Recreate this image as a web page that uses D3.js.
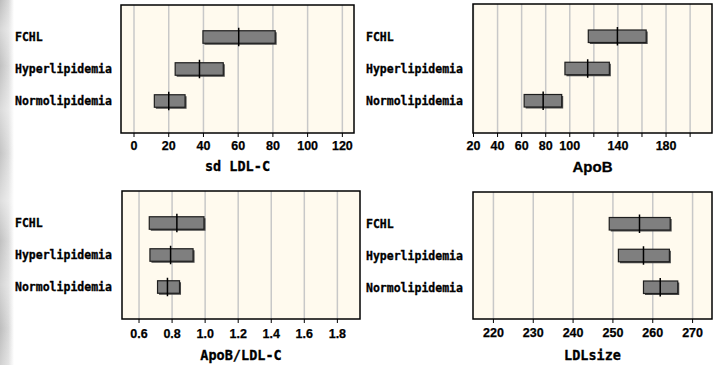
<!DOCTYPE html>
<html>
<head>
<meta charset="utf-8">
<script src="https://cdn.jsdelivr.net/npm/d3@7"></script>
<style>
  body { margin: 0; background: #fff; }
  svg { display: block; }
  .cat { font-family: "DejaVu Sans Mono", monospace; font-weight: bold; font-size: 11.5px; fill: #000; stroke: #000; stroke-width: 0.3px; }
  .tick text { font-family: "Liberation Sans", Arial, sans-serif; font-weight: bold; font-size: 12.5px; fill: #000; stroke: #000; stroke-width: 0.25px; }
  .title { font-family: "DejaVu Sans Mono", monospace; font-weight: bold; font-size: 13.5px; fill: #000; stroke: #000; stroke-width: 0.3px; }
  .prop .title { font-family: "Liberation Sans", Arial, sans-serif; font-size: 15px; }
</style>
</head>
<body>
<div id="chart"></div>
<script>
// groups shown on every panel, top to bottom
var groups = ["FCHL", "Hyperlipidemia", "Normolipidemia"];

// sd LDL-C
var sdLdlLow = [40, 24, 12];
var sdLdlMed = [60.6, 38, 20.3];
var sdLdlHigh = [81.6, 51.7, 29.7];
var sdLdlTicks = [0, 20, 40, 60, 80, 100, 120];

// ApoB
var apoBLow = [115.8, 96.4, 62.5];
var apoBMed = [140, 115.3, 78.3];
var apoBHigh = [163.9, 133.3, 93.7];
var apoBTicks = [20, 40, 60, 80, 100, 120, 140, 160, 180, 200];
var apoBLabels = [20, 40, 60, 80, 100, 140, 180];

// ApoB/LDL-C
var ratioLow = [0.665, 0.669, 0.715];
var ratioMed = [0.832, 0.794, 0.775];
var ratioHigh = [0.996, 0.93, 0.848];
var ratioTicks = [0.6, 0.8, 1.0, 1.2, 1.4, 1.6, 1.8];

// LDL size
var sizeLow = [249.2, 251.5, 257.8];
var sizeMed = [256.8, 257.8, 262];
var sizeHigh = [264.5, 264.3, 266.4];
var sizeTicks = [220, 230, 240, 250, 260, 270];

var W = 717, H = 365;

var svg = d3.select("#chart").append("svg")
    .attr("width", W).attr("height", H);

// greyish textured strip on the left edge
var defs = svg.append("defs");
var grad = defs.append("linearGradient").attr("id", "edge")
    .attr("x1", 0).attr("x2", 1).attr("y1", 0).attr("y2", 0);
grad.append("stop").attr("offset", "0%").attr("stop-color", "#bdbdbd");
grad.append("stop").attr("offset", "60%").attr("stop-color", "#d8d8d8");
grad.append("stop").attr("offset", "100%").attr("stop-color", "#ffffff");
var grad2 = defs.append("linearGradient").attr("id", "edge2")
    .attr("x1", 0).attr("x2", 0).attr("y1", 0).attr("y2", 1);
[["0%", 0.0], ["8%", 0.4], ["18%", 0.05], ["30%", 0.45], ["42%", 0.1], ["55%", 0.5], ["66%", 0.05], ["78%", 0.35], ["90%", 0.0], ["100%", 0.3]]
    .forEach(function(s) {
        grad2.append("stop").attr("offset", s[0]).attr("stop-color", "#fff").attr("stop-opacity", s[1]);
    });
svg.append("rect").attr("x", 0).attr("y", 0).attr("width", 14).attr("height", H).attr("fill", "url(#edge)");
svg.append("rect").attr("x", 0).attr("y", 0).attr("width", 14).attr("height", H).attr("fill", "url(#edge2)");

var panels = [
    { x0: 121, x1: 354, y0: 5, y1: 133, labelX: 15, domain: [-7.2, 127], title: "sd LDL-C",
      low: sdLdlLow, med: sdLdlMed, high: sdLdlHigh, ticks: sdLdlTicks, labels: sdLdlTicks,
      fmt: d3.format("d"), tickOff: 8, titleOff: 38, prop: false },
    { x0: 473, x1: 712, y0: 4, y1: 133, labelX: 366, domain: [20, 218.6], title: "ApoB",
      low: apoBLow, med: apoBMed, high: apoBHigh, ticks: apoBTicks, labels: apoBLabels,
      fmt: d3.format("d"), tickOff: 8, titleOff: 39, prop: true },
    { x0: 122, x1: 360, y0: 191, y1: 319, labelX: 15, domain: [0.5, 1.94], title: "ApoB/LDL-C",
      low: ratioLow, med: ratioMed, high: ratioHigh, ticks: ratioTicks, labels: ratioTicks,
      fmt: d3.format(".1f"), tickOff: 10, titleOff: 41, prop: false },
    { x0: 473, x1: 712, y0: 192, y1: 319, labelX: 366, domain: [215, 275], title: "LDLsize",
      low: sizeLow, med: sizeMed, high: sizeHigh, ticks: sizeTicks, labels: sizeTicks,
      fmt: d3.format("d"), tickOff: 9, titleOff: 41, prop: false }
];

panels.forEach(drawPanel);

function drawPanel(p) {
    var g = svg.append("g").attr("class", p.prop ? "prop" : "mono");
    var w = p.x1 - p.x0, h = p.y1 - p.y0;

    var x = d3.scaleLinear().domain(p.domain).range([p.x0, p.x1]);
    var y = d3.scaleLinear().domain([0, groups.length + 1]).range([p.y0, p.y1]);

    // plot background
    g.append("rect")
        .attr("x", p.x0).attr("y", p.y0).attr("width", w).attr("height", h)
        .attr("fill", "#fffaee");

    // grid lines
    g.append("g")
        .attr("transform", "translate(0," + p.y1 + ")")
        .call(d3.axisBottom(x).tickValues(p.ticks).tickSize(-h).tickFormat(""))
        .call(function(a) { a.select(".domain").remove(); })
        .selectAll("line").attr("stroke", "#c8c8c8").attr("stroke-width", 1.5);

    // bars: shadow, box, median
    var rows = groups.map(function(d, i) {
        return { name: d, low: p.low[i], med: p.med[i], high: p.high[i], pos: i + 1 };
    });
    var bh = 12.5;

    g.selectAll(".shadow").data(rows).enter().append("rect")
        .attr("class", "shadow")
        .attr("x", function(d) { return x(d.low) + 1.5; })
        .attr("y", function(d) { return y(d.pos) - bh / 2 + 1.5; })
        .attr("width", function(d) { return x(d.high) - x(d.low); })
        .attr("height", bh)
        .attr("fill", "#4a4a4a");

    g.selectAll(".bar").data(rows).enter().append("rect")
        .attr("class", "bar")
        .attr("x", function(d) { return x(d.low); })
        .attr("y", function(d) { return y(d.pos) - bh / 2; })
        .attr("width", function(d) { return x(d.high) - x(d.low); })
        .attr("height", bh)
        .attr("fill", "#7f7f7f")
        .attr("stroke", "#1e1e1e")
        .attr("stroke-width", 1.2);

    g.selectAll(".med").data(rows).enter().append("line")
        .attr("class", "med")
        .attr("x1", function(d) { return x(d.med); })
        .attr("x2", function(d) { return x(d.med); })
        .attr("y1", function(d) { return y(d.pos) - bh / 2 - 3; })
        .attr("y2", function(d) { return y(d.pos) + bh / 2 + 3; })
        .attr("stroke", "#000").attr("stroke-width", 1.5);

    // frame
    g.append("rect")
        .attr("x", p.x0).attr("y", p.y0).attr("width", w).attr("height", h)
        .attr("fill", "none").attr("stroke", "#000").attr("stroke-width", 1.5);

    // x axis ticks and labels
    var ax = g.append("g")
        .attr("transform", "translate(0," + p.y1 + ")")
        .call(d3.axisBottom(x).tickValues(p.ticks).tickSize(4).tickPadding(p.tickOff - 4)
            .tickFormat(function(d) { return p.labels.indexOf(d) >= 0 ? p.fmt(d) : ""; }));
    ax.select(".domain").remove();
    ax.selectAll("line").attr("stroke", "#000").attr("stroke-width", 1);

    // axis title
    g.append("text")
        .attr("class", "title")
        .attr("x", (p.x0 + p.x1) / 2)
        .attr("y", p.y1 + p.titleOff)
        .attr("text-anchor", "middle")
        .text(p.title);

    // group labels
    g.selectAll(".cat").data(rows).enter().append("text")
        .attr("class", "cat")
        .attr("x", p.labelX)
        .attr("y", function(d) { return y(d.pos); })
        .attr("dy", "0.38em")
        .text(function(d) { return d.name; });
}
</script>
</body>
</html>
